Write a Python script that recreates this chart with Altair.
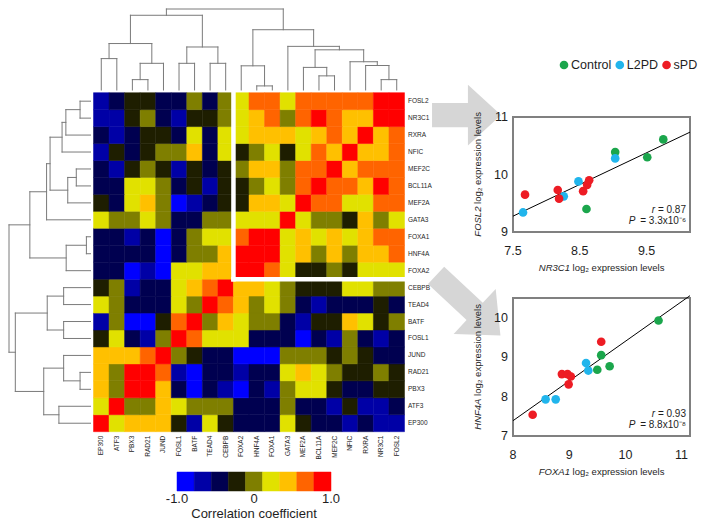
import altair as alt
import pandas as pd

FONT = "Liberation Sans"
PAGE_OFF = 8

# ---------------- data ----------------
genes = ["EP300", "ATF3", "PBX3", "RAD21", "JUND", "FOSL1", "BATF", "TEAD4", "CEBPB",
         "FOXA2", "HNF4A", "FOXA1", "GATA3", "MEF2A", "BCL11A", "MEF2C", "NFIC", "RXRA",
         "NR3C1", "FOSL2"]

# colour bin (0..8 over -1..1) of the correlation between gene i (row) and gene j (column)
corr_levels = [
    [8, 5, 6, 6, 6, 3, 1, 5, 3, 2, 2, 2, 5, 3, 2, 2, 1, 2, 1, 1],  # EP300
    [5, 8, 4, 4, 6, 5, 4, 4, 4, 2, 2, 2, 4, 2, 2, 1, 3, 1, 1, 2],  # ATF3
    [6, 4, 8, 8, 6, 2, 0, 2, 1, 0, 2, 1, 4, 5, 5, 3, 2, 2, 3, 3],  # PBX3
    [6, 4, 8, 8, 7, 1, 0, 2, 2, 1, 2, 2, 5, 6, 5, 4, 3, 3, 4, 3],  # RAD21
    [6, 6, 6, 7, 8, 4, 3, 2, 2, 0, 0, 0, 4, 4, 4, 3, 4, 3, 2, 2],  # JUND
    [3, 5, 2, 1, 4, 8, 7, 5, 5, 5, 2, 2, 2, 0, 2, 1, 4, 2, 1, 2],  # FOSL1
    [1, 4, 0, 0, 3, 7, 8, 4, 6, 5, 4, 4, 2, 1, 3, 3, 6, 5, 3, 4],  # BATF
    [5, 4, 2, 2, 2, 5, 4, 8, 7, 6, 4, 5, 4, 2, 1, 2, 2, 2, 3, 2],  # TEAD4
    [3, 4, 1, 2, 2, 5, 6, 7, 8, 6, 6, 5, 4, 3, 3, 3, 5, 5, 4, 4],  # CEBPB
    [2, 2, 0, 1, 0, 5, 5, 6, 6, 8, 8, 7, 5, 3, 3, 4, 3, 5, 5, 5],  # FOXA2
    [2, 2, 2, 2, 0, 2, 4, 4, 6, 8, 8, 8, 5, 6, 4, 6, 4, 6, 6, 7],  # HNF4A
    [2, 2, 1, 2, 0, 2, 4, 5, 5, 7, 8, 8, 5, 6, 5, 6, 5, 6, 7, 7],  # FOXA1
    [5, 4, 4, 5, 4, 2, 2, 4, 4, 5, 5, 5, 8, 5, 4, 4, 3, 6, 4, 5],  # GATA3
    [3, 2, 5, 6, 4, 0, 1, 2, 3, 3, 6, 6, 5, 8, 7, 7, 5, 5, 7, 7],  # MEF2A
    [2, 2, 5, 5, 4, 2, 3, 1, 3, 3, 4, 5, 4, 7, 8, 7, 7, 6, 8, 7],  # BCL11A
    [2, 1, 3, 4, 3, 1, 3, 2, 3, 4, 6, 6, 4, 7, 7, 8, 6, 7, 7, 7],  # MEF2C
    [1, 3, 2, 3, 4, 4, 6, 2, 5, 3, 4, 5, 3, 5, 7, 6, 8, 6, 6, 7],  # NFIC
    [2, 1, 2, 3, 3, 2, 5, 2, 5, 5, 6, 6, 6, 5, 6, 7, 6, 8, 6, 7],  # RXRA
    [1, 1, 3, 4, 2, 1, 3, 3, 4, 5, 6, 7, 4, 7, 8, 7, 6, 6, 8, 8],  # NR3C1
    [1, 2, 3, 3, 2, 2, 4, 2, 4, 5, 7, 7, 5, 7, 7, 7, 7, 7, 8, 8],  # FOSL2
]
level_colors = ["#0000ff", "#0000a6", "#000050", "#1e1e00", "#7f7f00",
                "#e1e100", "#ffc000", "#ff6400", "#ff0000"]
colorbar_ticks = [-1.0, 0.0, 1.0]
colorbar_text = ["-1.0", "0", "1.0"]

# hierarchical clustering: (node, left, right, merge height)
tree = [
    ("A", "EP300", "ATF3", 100), ("B", "PBX3", "RAD21", 33), ("C", "B", "JUND", 85),
    ("D", "A", "C", 148), ("E", "FOSL1", "BATF", 85), ("F", "TEAD4", "CEBPB", 85),
    ("G", "E", "F", 137), ("H", "D", "G", 238), ("I", "HNF4A", "FOXA1", 13),
    ("J", "FOXA2", "I", 77), ("K", "BCL11A", "MEF2C", 45), ("L", "MEF2A", "K", 72),
    ("M", "NR3C1", "FOSL2", 33), ("N", "RXRA", "M", 78), ("O", "NFIC", "N", 90),
    ("P", "L", "O", 128), ("Q", "GATA3", "P", 139), ("R", "J", "Q", 192),
    ("S", "H", "R", 258),
]

groups = ["Control", "L2PD", "sPD"]
group_colors = ["#1ba64c", "#21b5ec", "#ed1c24"]
sample_group = ["Control"] * 4 + ["L2PD"] * 4 + ["sPD"] * 6
nr3c1_expr = [9.75, 9.03, 9.51, 8.60, 9.03, 8.48, 8.26, 7.65, 7.68, 8.17, 8.19, 8.55, 8.61, 8.64]
fosl2_expr = [10.61, 10.39, 10.30, 9.40, 10.28, 9.88, 9.62, 9.34, 9.65, 9.73, 9.58, 9.71, 9.82, 9.90]
foxa1_expr = [10.59, 9.57, 9.50, 9.72, 9.30, 9.34, 8.58, 8.76, 9.57, 8.87, 8.97, 9.03, 8.99, 8.35]
hnf4a_expr = [9.93, 9.05, 8.68, 8.77, 8.85, 8.66, 7.93, 7.93, 9.39, 8.57, 8.57, 8.51, 8.31, 7.54]
stats_top = ("0.87", "3.3x10\u207b\u2076")
stats_bottom = ("0.93", "8.8x10\u207b\u2078")

# ---------------- helpers ----------------
AW = {" ": .278, "=": .584, ".": .278, "x": .5, "l": .222, "o": .556, "g": .556, "e": .556,
      "p": .556, "r": .333, "s": .5, "i": .222, "n": .556, "v": .5, "t": .278, "\u2082": .36,
      "\u207b": .35, "N": .722, "R": .722, "C": .722, "O": .778, "F": .611, "X": .667,
      "H": .722, "S": .667, "L": .556, "A": .667, "P": .667, "D": .722}


def tw(s, size):
    return sum(AW.get(c, 0.556) for c in s) * size


def sc(d0, d1, p0, p1):
    return alt.Scale(domain=[d0, d1], range=[p0 - PAGE_OFF, p1 - PAGE_OFF], nice=False, zero=False)


n = len(genes)
COLX = sc(0, n, 93.5, 404.5)
ROWY = sc(0, n, 431.7, 92.7)
HTOP = sc(0, 258, 90.0, 9.0)
HLEFT = sc(0, 258, 90.5, 9.0)
lev_scale = alt.Scale(domain=list(range(len(level_colors))), range=level_colors)
TXT = "#1e1e1e"

layers = []

# heatmap
cells = pd.DataFrame([{"i": i, "j": j, "i2": i + 1, "j2": j + 1, "lev": corr_levels[i][j]}
                      for i in range(n) for j in range(n)])
layers.append(alt.Chart(cells).mark_rect(strokeWidth=0.5).encode(
    x=alt.X("j:Q", scale=COLX, axis=None), x2="j2:Q",
    y=alt.Y("i:Q", scale=ROWY, axis=None), y2="i2:Q",
    fill=alt.Fill("lev:O", scale=lev_scale, legend=None),
    stroke=alt.Stroke("lev:O", scale=lev_scale, legend=None)))

# white box around the FOXA2..FOSL2 block
k0 = genes.index("FOXA2")
wb = pd.DataFrame({"a": [k0, k0], "a2": [k0, n], "b": [k0, k0], "b2": [n, k0]})
layers.append(alt.Chart(wb).mark_rule(color="white", strokeWidth=4.5, strokeCap="square").encode(
    x=alt.X("a:Q", scale=COLX, axis=None), x2="a2:Q",
    y=alt.Y("b:Q", scale=ROWY, axis=None), y2="b2:Q"))

# dendrograms
pos = {g: (k + 0.5, 0.0) for k, g in enumerate(genes)}
segs = []
for name, a, b, h in tree:
    xa, ha = pos[a]
    xb, hb = pos[b]
    segs += [(xa, ha, xa, h), (xb, hb, xb, h), (xa, h, xb, h)]
    pos[name] = ((xa + xb) / 2, h)
seg_df = pd.DataFrame(segs, columns=["p1", "h1", "p2", "h2"])
layers.append(alt.Chart(seg_df).mark_rule(color="#7a7a7a", strokeWidth=1, strokeCap="square").encode(
    x=alt.X("p1:Q", scale=COLX, axis=None), x2="p2:Q",
    y=alt.Y("h1:Q", scale=HTOP, axis=None), y2="h2:Q"))
layers.append(alt.Chart(seg_df).mark_rule(color="#7a7a7a", strokeWidth=1, strokeCap="square").encode(
    y=alt.Y("p1:Q", scale=ROWY, axis=None), y2="p2:Q",
    x=alt.X("h1:Q", scale=HLEFT, axis=None), x2="h2:Q"))

# gene labels
lab = pd.DataFrame({"gene": genes, "p": [k + 0.5 for k in range(n)], "edge": [n] * n, "base": [0] * n})
layers.append(alt.Chart(lab).mark_text(align="left", baseline="middle", dx=3.5, font=FONT,
                                       fontSize=6.5, color=TXT).encode(
    x=alt.X("edge:Q", scale=COLX, axis=None), y=alt.Y("p:Q", scale=ROWY, axis=None), text="gene:N"))
layers.append(alt.Chart(lab).mark_text(align="right", baseline="middle", angle=270, dx=-4,
                                       font=FONT, fontSize=6.5, color=TXT).encode(
    x=alt.X("p:Q", scale=COLX, axis=None), y=alt.Y("base:Q", scale=ROWY, axis=None), text="gene:N"))

# colour bar
CBX = sc(-1, 1, 177, 331)
CBY = sc(0, 1, 472, 491)
nb = len(level_colors)
cb = pd.DataFrame({"lev": list(range(nb)), "lo": [-1 + 2 * k / nb for k in range(nb)],
                   "hi": [-1 + 2 * (k + 1) / nb for k in range(nb)], "t": [0] * nb, "b": [1] * nb})
layers.append(alt.Chart(cb).mark_rect(strokeWidth=0.5).encode(
    x=alt.X("lo:Q", scale=CBX, axis=None), x2="hi:Q",
    y=alt.Y("t:Q", scale=CBY, axis=None), y2="b:Q",
    fill=alt.Fill("lev:O", scale=lev_scale, legend=None),
    stroke=alt.Stroke("lev:O", scale=lev_scale, legend=None)))
cbt = pd.DataFrame({"v": colorbar_ticks, "txt": colorbar_text, "b": [1] * len(colorbar_ticks)})
layers.append(alt.Chart(cbt).mark_text(baseline="middle", dy=7.5, font=FONT, fontSize=13, color=TXT).encode(
    x=alt.X("v:Q", scale=CBX, axis=None), y=alt.Y("b:Q", scale=CBY, axis=None), text="txt:N"))
cbtitle = pd.DataFrame({"v": [0.0], "b": [1], "txt": ["Correlation coefficient"]})
layers.append(alt.Chart(cbtitle).mark_text(baseline="alphabetic", dy=27, font=FONT, fontSize=13,
                                           color=TXT).encode(
    x=alt.X("v:Q", scale=CBX, axis=None), y=alt.Y("b:Q", scale=CBY, axis=None), text="txt:N"))

# arrows from the heatmap rows towards the scatter plots
ARROW_FILL = "#d6d6d6"
arrow_right = "M -1 -0.35 L 0.04 -0.35 L 0.04 -0.88 L 1 0 L 0.04 0.88 L 0.04 0.35 L -1 0.35 Z"
arrow_diag = "M -1 -0.27 L 0.2 -0.27 L 0.2 -0.7 L 1 0 L 0.2 0.7 L 0.2 0.27 L -1 0.27 Z"
a1 = pd.DataFrame({"u": [23.99], "v": [18.68]})
a2 = pd.DataFrame({"u": [24.1], "v": [7.45]})
layers.append(alt.Chart(a1).mark_point(shape=arrow_right, size=4761, filled=True, fill=ARROW_FILL,
                                       opacity=1, strokeWidth=0).encode(
    x=alt.X("u:Q", scale=COLX, axis=None), y=alt.Y("v:Q", scale=ROWY, axis=None)))
layers.append(alt.Chart(a2).mark_point(shape=arrow_diag, size=7744, angle=43, filled=True,
                                       fill=ARROW_FILL, opacity=1, strokeWidth=0).encode(
    x=alt.X("u:Q", scale=COLX, axis=None), y=alt.Y("v:Q", scale=ROWY, axis=None)))


def title_pair(x, y, XS, YS, ital, rest, size, angle, dy):
    g, r, sp = tw(ital, size), tw(rest, size), tw(" ", size)
    total = g + sp + r
    off_g = -total / 2 + g
    off_r = off_g + sp
    d = pd.DataFrame({"x": [x], "y": [y], "a": [ital], "b": [rest]})
    enc = dict(x=alt.X("x:Q", scale=XS, axis=None), y=alt.Y("y:Q", scale=YS, axis=None))
    common = dict(baseline="middle", font=FONT, fontSize=size, angle=angle, dy=dy, color=TXT)
    return [
        alt.Chart(d).mark_text(align="right", dx=off_g, fontStyle="italic", **common).encode(text="a:N", **enc),
        alt.Chart(d).mark_text(align="left", dx=off_r, **common).encode(text="b:N", **enc),
    ]


def stat_pair(x, y, XS, YS, ital, rest, size, dx, dy):
    r, sp = tw(rest, size), tw(" ", size)
    d = pd.DataFrame({"x": [x], "y": [y], "a": [ital], "b": [rest]})
    enc = dict(x=alt.X("x:Q", scale=XS, axis=None), y=alt.Y("y:Q", scale=YS, axis=None))
    common = dict(baseline="middle", font=FONT, fontSize=size, dy=dy, color=TXT)
    return [
        alt.Chart(d).mark_text(align="right", dx=dx - r - sp, fontStyle="italic", **common).encode(text="a:N", **enc),
        alt.Chart(d).mark_text(align="right", dx=dx, **common).encode(text="b:N", **enc),
    ]


color_scale = alt.Scale(domain=groups, range=group_colors)


def scatter(xv, yv, xdom, ydom, bx, by, xticks, xtick_text, yticks, ytick_text, xgene, ygene, stats):
    XS = sc(xdom[0], xdom[1], bx[0], bx[1])
    YS = sc(ydom[0], ydom[1], by[0], by[1])

    def X(f):
        return alt.X(f, scale=XS, axis=None)

    def Y(f):
        return alt.Y(f, scale=YS, axis=None)

    out = []
    box = pd.DataFrame({"x0": [xdom[0]], "x1": [xdom[1]], "y0": [ydom[0]], "y1": [ydom[1]]})
    out.append(alt.Chart(box).mark_rect(fill="white", fillOpacity=0, stroke="#808080", strokeWidth=2).encode(
        x=X("x0:Q"), x2="x1:Q", y=Y("y0:Q"), y2="y1:Q"))
    pts = pd.DataFrame({"x": xv, "y": yv, "group": sample_group})
    out.append(alt.Chart(pts).transform_regression("x", "y", extent=list(xdom)).mark_line(
        color="black", strokeWidth=1).encode(x=X("x:Q"), y=Y("y:Q")))
    out.append(alt.Chart(pts).mark_circle(size=75, opacity=1).encode(
        x=X("x:Q"), y=Y("y:Q"), color=alt.Color("group:N", scale=color_scale, legend=None)))
    xt = pd.DataFrame({"x": xticks, "t": xtick_text, "y": [ydom[0]] * len(xticks)})
    out.append(alt.Chart(xt).mark_text(baseline="middle", dy=18.5, font=FONT, fontSize=12.5, color=TXT).encode(
        x=X("x:Q"), y=Y("y:Q"), text="t:N"))
    yt = pd.DataFrame({"y": yticks, "t": ytick_text, "x": [xdom[0]] * len(yticks)})
    out.append(alt.Chart(yt).mark_text(align="right", baseline="middle", dx=-5, font=FONT, fontSize=12.5,
                                       color=TXT).encode(x=X("x:Q"), y=Y("y:Q"), text="t:N"))
    rest = "log\u2082 expression levels"
    out += title_pair((xdom[0] + xdom[1]) / 2, ydom[0], XS, YS, xgene, rest, 9.5, 0, 36)
    out += title_pair(xdom[0], (ydom[0] + ydom[1]) / 2, XS, YS, ygene, rest, 9.5, 270, -35)
    out += stat_pair(xdom[1], ydom[0], XS, YS, "r", "= " + stats[0], 10, -4, -22)
    out += stat_pair(xdom[1], ydom[0], XS, YS, "P", "= " + stats[1], 10, -4, -11)
    return out


layers += scatter(nr3c1_expr, fosl2_expr, (7.5, 10.15), (9.0, 11.0), (513, 690), (232, 117),
                  [7.5, 8.5, 9.5], ["7.5", "8.5", "9.5"], [9, 10, 11], ["9", "10", "11"],
                  "NR3C1", "FOSL2", stats_top)
layers += scatter(foxa1_expr, hnf4a_expr, (8.0, 11.15), (7.0, 10.5), (513, 690), (436, 298),
                  [8, 9, 10, 11], ["8", "9", "10", "11"], [7, 8, 9, 10], ["7", "8", "9", "10"],
                  "FOXA1", "HNF4A", stats_bottom)

# legend: symbols and labels laid out from the label widths (pixel offsets from the legend start)
LEG_FS = 12.5
LEGX = sc(0, 100, 564, 664)
LEGY = sc(0, 1, 65, 66)
offs, cur = [], 0.0
for g in groups:
    offs.append(cur)
    cur += 7 + tw(g, LEG_FS) + 8.5
leg = pd.DataFrame({"group": groups, "o": offs, "y": [0] * len(groups)})
layers.append(alt.Chart(leg).mark_circle(size=75, opacity=1).encode(
    x=alt.X("o:Q", scale=LEGX, axis=None), y=alt.Y("y:Q", scale=LEGY, axis=None),
    color=alt.Color("group:N", scale=color_scale, legend=None)))
layers.append(alt.Chart(leg).mark_text(align="left", baseline="middle", dx=7, font=FONT, fontSize=LEG_FS,
                                       color=TXT).encode(
    x=alt.X("o:Q", scale=LEGX, axis=None), y=alt.Y("y:Q", scale=LEGY, axis=None), text="group:N"))

chart = alt.layer(*layers).resolve_scale(
    x="independent", y="independent", color="independent", fill="independent", stroke="independent"
).properties(
    width=694, height=513, autosize=alt.AutoSizeParams(type="none"), padding=0
).configure_view(stroke=None)

chart.save("out.html", embed_options={"renderer": "svg", "actions": False})
